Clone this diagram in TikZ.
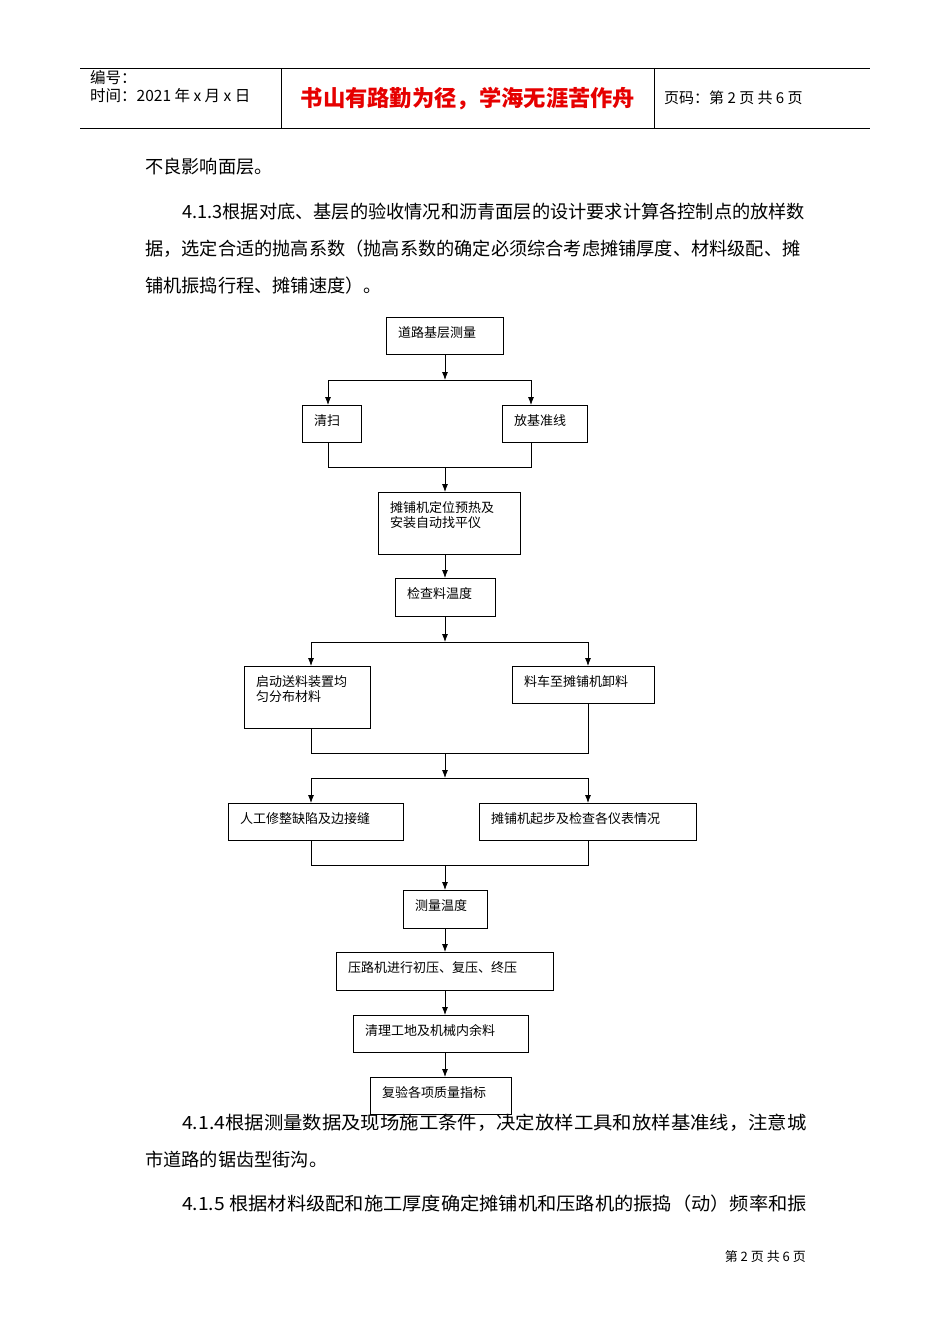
\documentclass[tikz,border=0pt]{standalone}
\usepackage{graphicx}
\usepackage{fontspec}
\usetikzlibrary{arrows.meta}
\setmainfont{Liberation Serif}
\newfontfamily\cjk{Noto Sans CJK SC}
\begin{document}
\begin{tikzpicture}[x=1pt,y=-1pt,
 bx/.style={draw,line width=0.8pt},
 bt/.style={anchor=north west,inner sep=0pt,font=\cjk\fontsize{13}{15}\selectfont,align=left},
 body/.style={anchor=west,inner sep=0pt,font=\cjk\fontsize{18.2}{20}\selectfont},
 ln/.style={line width=0.8pt},
 ar/.style={line width=0.8pt,-{Latex[length=8pt,width=6pt]}}]
\useasboundingbox[fill=white] (0,0) rectangle (950,1344);
% header
\draw[line width=0.6pt] (80,68) -- (870,68) (80,128) -- (870,128) (281,68) -- (281,128) (654,68) -- (654,128);
\node[anchor=west,inner sep=0pt,font=\cjk\fontsize{15.5}{17}\selectfont] (h1) at (90,78) {编号：};
\node[anchor=west,inner sep=0pt,font=\cjk\fontsize{15.5}{17}\selectfont] (h2) at (90,96) {时间：2021 年 x 月 x 日};
\node[inner sep=0pt,font=\cjk\bfseries\fontsize{22.3}{25}\selectfont,text={rgb,255:red,230;green,0;blue,0}] (h3) at (468,99) {书山有路勤为径，学海无涯苦作舟};
\node[anchor=west,inner sep=0pt,font=\cjk\fontsize{15}{17}\selectfont] (h4) at (664,98) {页码：第 2 页 共 6 页};
% body
\node[body] (t0) at (145,167) {不良影响面层。};
\node[body] (t1) at (145,212) {\hspace{37pt}4.1.3根据对底、基层的验收情况和沥青面层的设计要求计算各控制点的放样数};
\node[body] (t2) at (145,249) {据，选定合适的抛高系数（抛高系数的确定必须综合考虑摊铺厚度、材料级配、摊};
\node[body] (t3) at (145,286) {铺机振捣行程、摊铺速度）。};
% boxes
\newcommand\bxx[6]{\draw[bx] (#2,#3) rectangle (#4,#5); \node[bt] (#1) at (#2+12,#3+9) {#6};}
\bxx{b1}{386}{317}{503}{354}{道路基层测量}
\bxx{b2}{302}{405}{361}{442}{清扫}
\bxx{b3}{502}{405}{587}{442}{放基准线}
\bxx{b4}{378}{492}{520}{554}{摊铺机定位预热及\\安装自动找平仪}
\bxx{b5}{395}{578}{495}{616}{检查料温度}
\bxx{b6}{244}{666}{370}{728}{启动送料装置均\\匀分布材料}
\bxx{b7}{512}{666}{654}{703}{料车至摊铺机卸料}
\bxx{b8}{228}{803}{403}{840}{人工修整缺陷及边接缝}
\bxx{b9}{479}{803}{696}{840}{摊铺机起步及检查各仪表情况}
\bxx{b10}{403}{890}{487}{928}{测量温度}
\bxx{b11}{336}{952}{553}{990}{压路机进行初压、复压、终压}
\bxx{b12}{353}{1015}{528}{1052}{清理工地及机械内余料}
\bxx{b13}{370}{1077}{511}{1114}{复验各项质量指标}
% connectors
\coordinate (s1) at (445,380);
\draw[ar] (445,354) -- (s1);
\draw[ln] (328,380) -- (531,380);
\draw[ar] (328,380) -- (328,405);
\draw[ar] (531,380) -- (531,405);
\draw[ln] (328,442) -- (328,467) -- (531,467) -- (531,442);
\draw[ar] (445,467) -- (445,492);
\draw[ar] (445,554) -- (445,578);
\draw[ar] (445,616) -- (445,642);
\draw[ln] (311,642) -- (588,642);
\draw[ar] (311,642) -- (311,666);
\draw[ar] (588,642) -- (588,666);
\draw[ln] (311,728) -- (311,753) -- (588,753) -- (588,703);
\draw[ar] (445,753) -- (445,778);
\draw[ln] (311,778) -- (588,778);
\draw[ar] (311,778) -- (311,803);
\draw[ar] (588,778) -- (588,803);
\draw[ln] (311,840) -- (311,865) -- (588,865) -- (588,840);
\draw[ar] (445,865) -- (445,890);
\draw[ar] (445,928) -- (445,952);
\draw[ar] (445,990) -- (445,1015);
\draw[ar] (445,1052) -- (445,1077);
% bottom text
\node[body] (t4) at (182,1123) {\scalebox{1.065}[1]{4.1.4根据测量数据及现场施工条件，决定放样工具和放样基准线，注意城}};
\node[body] (t5) at (145,1160) {市道路的锯齿型街沟。};
\node[body] (t6) at (182,1204) {\scalebox{1.058}[1]{4.1.5 根据材料级配和施工厚度确定摊铺机和压路机的振捣（动）频率和振}};
\node[anchor=east,inner sep=0pt,font=\cjk\fontsize{13}{15}\selectfont] (ft) at (806,1257) {第 2 页 共 6 页};
\end{tikzpicture}
\end{document}
